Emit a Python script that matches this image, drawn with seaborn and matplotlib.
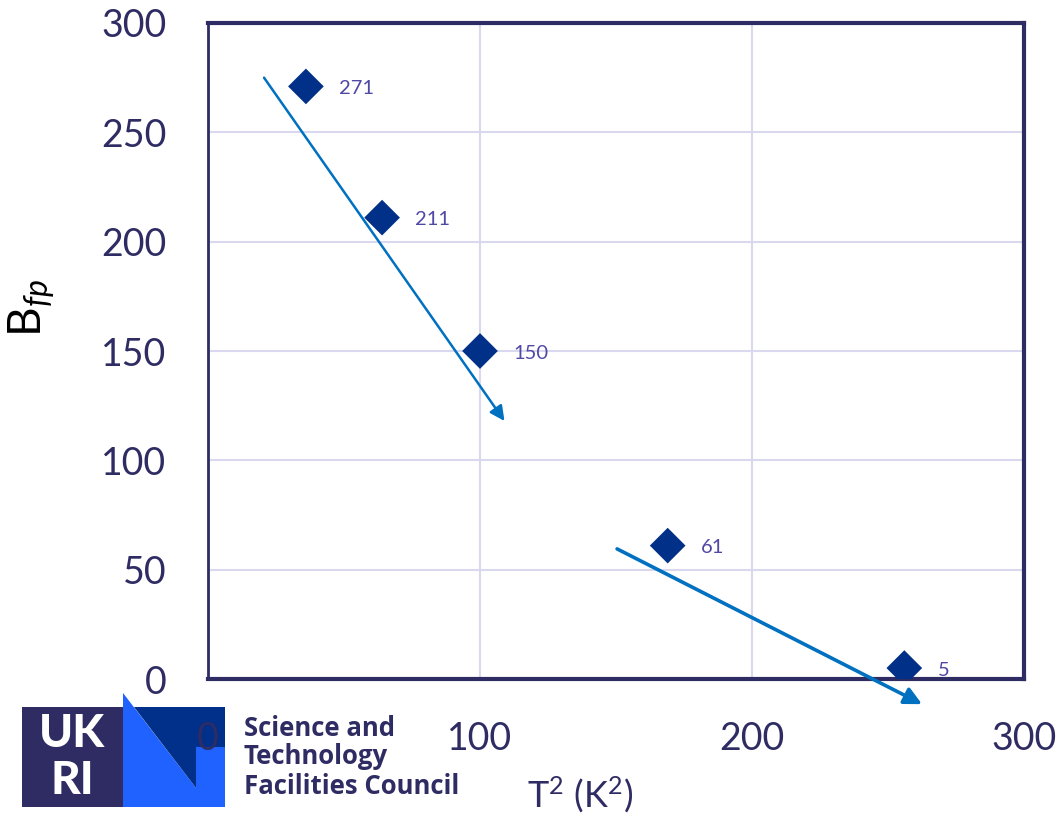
import matplotlib
matplotlib.use("Agg")
import matplotlib.pyplot as plt
import seaborn as sns
import pandas as pd
from matplotlib.patches import Rectangle, Polygon

# ---- data ----
t2_values = [36, 64, 100, 169, 256]
bfp_values = [271, 211, 150, 61, 5]
point_labels = ["271", "211", "150", "61", "5"]
x_ticks = [0, 100, 200, 300]
y_ticks = [0, 50, 100, 150, 200, 250, 300]
arrow1 = [(20.6, 275), (109, 118)]
arrow2 = [(150.4, 59.5), (262.5, -11.5)]

sns.set_theme(style="white")
plt.rcParams['font.family'] = ['Lato', 'DejaVu Sans']
plt.rcParams['mathtext.fontset'] = 'custom'
plt.rcParams['mathtext.rm'] = 'Lato'
plt.rcParams['mathtext.it'] = 'Lato:italic'

navy = '#2e2c63'
marker_c = '#003087'
label_c = '#4f48a5'
arrow_c = '#0070c0'
grid_c = '#d9d8ee'

W, H = 1058, 816
fig = plt.figure(figsize=(W / 100, H / 100), dpi=100)

# logo layer (below main axes)
lax = fig.add_axes([0, 0, 1, 1], zorder=0)
lax.set_xlim(0, W)
lax.set_ylim(H, 0)
lax.axis('off')
lax.add_patch(Rectangle((22, 707), 101, 100, facecolor=navy, edgecolor='none'))
lax.add_patch(Polygon([(123, 693), (196, 788), (196, 747), (225, 747), (225, 807), (123, 807)],
                      closed=True, facecolor='#1f62ff', edgecolor='none'))
lax.add_patch(Polygon([(134, 707), (225, 707), (225, 747), (196, 747), (196, 788)],
                      closed=True, facecolor='#00308a', edgecolor='none'))
lax.text(72, 734, "UK", color='white', fontsize=33, fontweight='black',
         ha='center', va='center')
lax.text(72, 781, "RI", color='white', fontsize=33, fontweight='black',
         ha='center', va='center')
for i, line in enumerate(["Science and", "Technology", "Facilities Council"]):
    lax.text(244, 728 + i * 29, line, color=navy, fontsize=18.5, fontweight='bold',
             family=['Open Sans', 'DejaVu Sans'], ha='left', va='center')

# main axes
ax = fig.add_axes([208 / W, 1 - 679 / H, (1024 - 208) / W, (679 - 23) / H], zorder=1)
ax.set_facecolor('white')
df = pd.DataFrame({"T2": t2_values, "Bfp": bfp_values})
sns.scatterplot(data=df, x="T2", y="Bfp", marker='D', s=330, color=marker_c,
                edgecolor='none', ax=ax, zorder=3)

for x, y, lab in zip(t2_values, bfp_values, point_labels):
    ax.annotate(lab, (x, y), xytext=(24, -1.5), textcoords='offset points',
                color=label_c, fontsize=14.5, ha='left', va='center', zorder=4)

for (s, e), lw, ms in [(arrow1, 1.8, 22), (arrow2, 2.6, 26)]:
    ax.annotate("", xy=e, xytext=s, annotation_clip=False, zorder=5,
                arrowprops=dict(arrowstyle='-|>', color=arrow_c, lw=lw,
                                mutation_scale=ms, shrinkA=0, shrinkB=0))

ax.set_xlim(0, 300)
ax.set_ylim(0, 300)
ax.set_xticks(x_ticks)
ax.set_yticks(y_ticks)
ax.grid(True, color=grid_c, lw=1.5)
ax.set_axisbelow(True)
ax.tick_params(axis='both', length=0, labelsize=27, labelcolor=navy)
ax.tick_params(axis='y', pad=30)
ax.tick_params(axis='x', pad=30)

for side in ['top', 'right', 'bottom']:
    ax.spines[side].set_color(navy)
    ax.spines[side].set_linewidth(3)
ax.spines['left'].set_color(navy)
ax.spines['left'].set_linewidth(2)

ax.set_xlabel("")
ax.set_ylabel("")
fig.text(580 / W, 1 - 795 / H, r"T$^2$ (K$^2$)", fontsize=26, color=navy,
         ha='center', va='center')
fig.text(32 / W, 1 - 308 / H, r"B$_{\mathit{fp}}$", fontsize=33, color='black',
         rotation=90, ha='center', va='center')

fig.savefig("out.png", dpi=100)
